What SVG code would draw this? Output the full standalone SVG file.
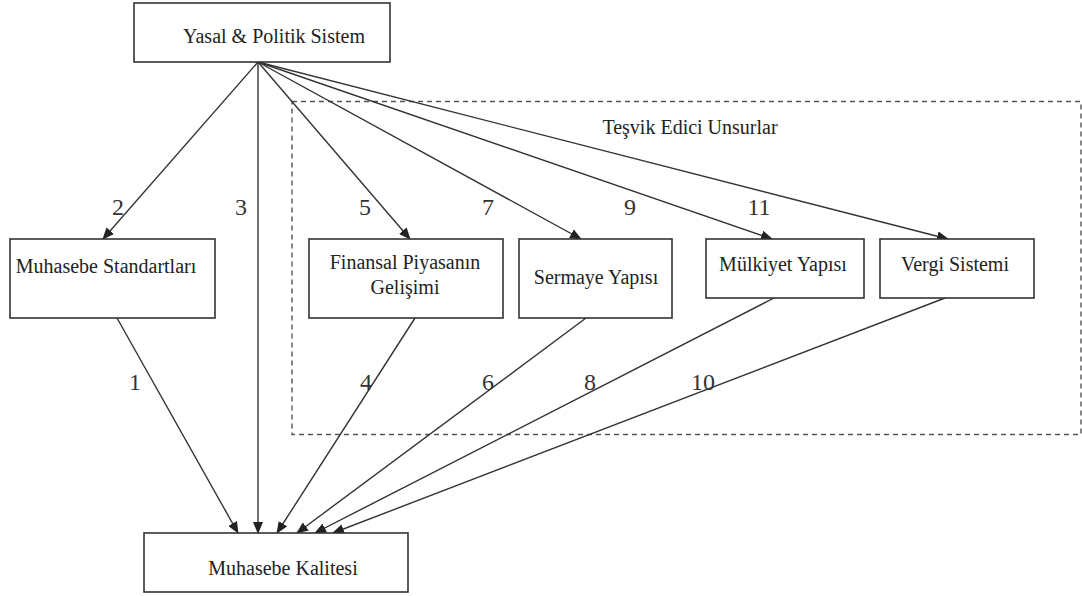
<svg xmlns="http://www.w3.org/2000/svg" width="1082" height="596" viewBox="0 0 1082 596">
<defs>
<marker id="ah" markerWidth="12" markerHeight="10" refX="11" refY="5" orient="auto" markerUnits="userSpaceOnUse">
<path d="M0,0 L12,5 L0,10 Z" fill="#222"/>
</marker>
</defs>
<style>
.box{fill:#fff;stroke:#333;stroke-width:1.6}
.t{font-family:'Liberation Serif','DejaVu Serif',serif;font-size:20px;fill:#222;text-anchor:middle}
.n{font-family:'Liberation Serif','DejaVu Serif',serif;font-size:24px;fill:#333;text-anchor:middle}
.c{stroke:#333;stroke-width:1.4;fill:none;marker-end:url(#ah)}
.d{fill:none;stroke:#555;stroke-width:1.4;stroke-dasharray:5,4}
</style>
<rect class="d" x="292" y="101.5" width="789" height="333"/>
<text class="t" x="690" y="134">Teşvik Edici Unsurlar</text>
<g id="connectors">
<line class="c" x1="258" y1="62" x2="103" y2="239"/>
<line class="c" x1="258" y1="62" x2="258" y2="533"/>
<line class="c" x1="258" y1="62" x2="410" y2="239"/>
<line class="c" x1="258" y1="62" x2="581" y2="239"/>
<line class="c" x1="258" y1="62" x2="772" y2="239"/>
<line class="c" x1="258" y1="62" x2="948" y2="239"/>
<line class="c" x1="117" y1="318" x2="238" y2="533"/>
<line class="c" x1="415" y1="318" x2="277" y2="533"/>
<line class="c" x1="586" y1="318" x2="297" y2="533"/>
<line class="c" x1="774" y1="298" x2="315" y2="533"/>
<line class="c" x1="945" y1="298" x2="333" y2="533"/>
</g>
<g id="labels">
<text class="n" x="118" y="215">2</text>
<text class="n" x="241" y="215">3</text>
<text class="n" x="365" y="215">5</text>
<text class="n" x="488" y="215">7</text>
<text class="n" x="630" y="215">9</text>
<text class="n" x="759" y="215">11</text>
<text class="n" x="135" y="390">1</text>
<text class="n" x="366" y="390">4</text>
<text class="n" x="488" y="390">6</text>
<text class="n" x="590" y="390">8</text>
<text class="n" x="703" y="390">10</text>
</g>
<g id="yasal">
<rect class="box" x="134" y="3" width="256" height="59"/>
<text class="t" x="274" y="43">Yasal &amp; Politik Sistem</text>
</g>
<g id="standartlar">
<rect class="box" x="10" y="239" width="205" height="79"/>
<text class="t" x="106" y="273">Muhasebe Standartları</text>
</g>
<g id="finansal">
<rect class="box" x="309" y="239" width="194" height="79"/>
<text class="t" x="405" y="269">Finansal Piyasanın</text>
<text class="t" x="405" y="294">Gelişimi</text>
</g>
<g id="sermaye">
<rect class="box" x="519" y="239" width="153" height="79"/>
<text class="t" x="596" y="284">Sermaye Yapısı</text>
</g>
<g id="mulkiyet">
<rect class="box" x="706" y="239" width="158" height="59"/>
<text class="t" x="783" y="271">Mülkiyet Yapısı</text>
</g>
<g id="vergi">
<rect class="box" x="880" y="239" width="154" height="59"/>
<text class="t" x="955" y="271">Vergi Sistemi</text>
</g>
<g id="kalite">
<rect class="box" x="144" y="533" width="264" height="59"/>
<text class="t" x="283" y="575">Muhasebe Kalitesi</text>
</g>
</svg>
